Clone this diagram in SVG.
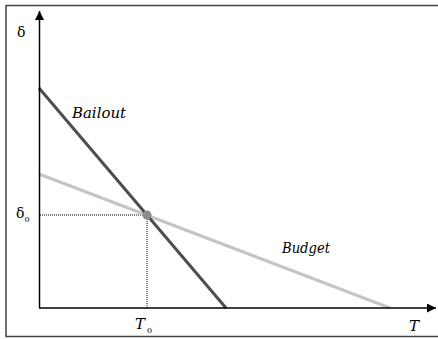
<svg xmlns="http://www.w3.org/2000/svg" width="438" height="339" viewBox="0 0 438 339">
<defs>
<marker id="arr" viewBox="0 0 10 10" refX="10" refY="5" markerWidth="9" markerHeight="9" markerUnits="userSpaceOnUse" orient="auto">
<path d="M0,0 L10,5 L0,10 z" fill="#000"/>
</marker>
<style>
.t{font-family:"DejaVu Serif","Liberation Serif",serif;fill:#000}
.i{font-style:italic}
.ax{stroke:#000;stroke-width:1.5;fill:none}
.dot{stroke:#000;stroke-width:1;stroke-dasharray:1 1;fill:none}
</style>
</defs>
<rect x="0" y="0" width="438" height="339" fill="#fff"/>
<path d="M440,5.5 H6 V336.5 H440" fill="none" stroke="#444" stroke-width="1.5"/>
<g id="connectors">
<line class="dot" x1="40" y1="215" x2="147" y2="215"/>
<line class="dot" x1="147" y1="215" x2="147" y2="308"/>
<line x1="39" y1="174" x2="390" y2="308" stroke="#c4c4c4" stroke-width="3"/>
<line x1="39" y1="88" x2="226" y2="308" stroke="#4d4d4d" stroke-width="3"/>
<line class="ax" x1="39.5" y1="308" x2="39.5" y2="11" marker-end="url(#arr)"/>
<line class="ax" x1="39" y1="308" x2="436" y2="308" marker-end="url(#arr)"/>
</g>
<g id="point"><circle cx="147" cy="215" r="4.5" fill="#8c8c8c"/></g>
<g id="labels">
<text class="t" x="17" y="37" font-size="14">δ</text>
<text class="t" x="16" y="218" font-size="14">δ<tspan font-size="8" dy="4">0</tspan></text>
<text class="t i" x="135" y="329" font-size="15">T<tspan font-size="8" font-style="normal" dx="2" dy="4">0</tspan></text>
<text class="t i" x="409" y="331" font-size="15">T</text>
<text class="t i" x="72" y="118" font-size="14" textLength="54" lengthAdjust="spacingAndGlyphs">Bailout</text>
<text class="t i" x="282" y="253" font-size="14" textLength="48" lengthAdjust="spacingAndGlyphs">Budget</text>
</g>
</svg>
